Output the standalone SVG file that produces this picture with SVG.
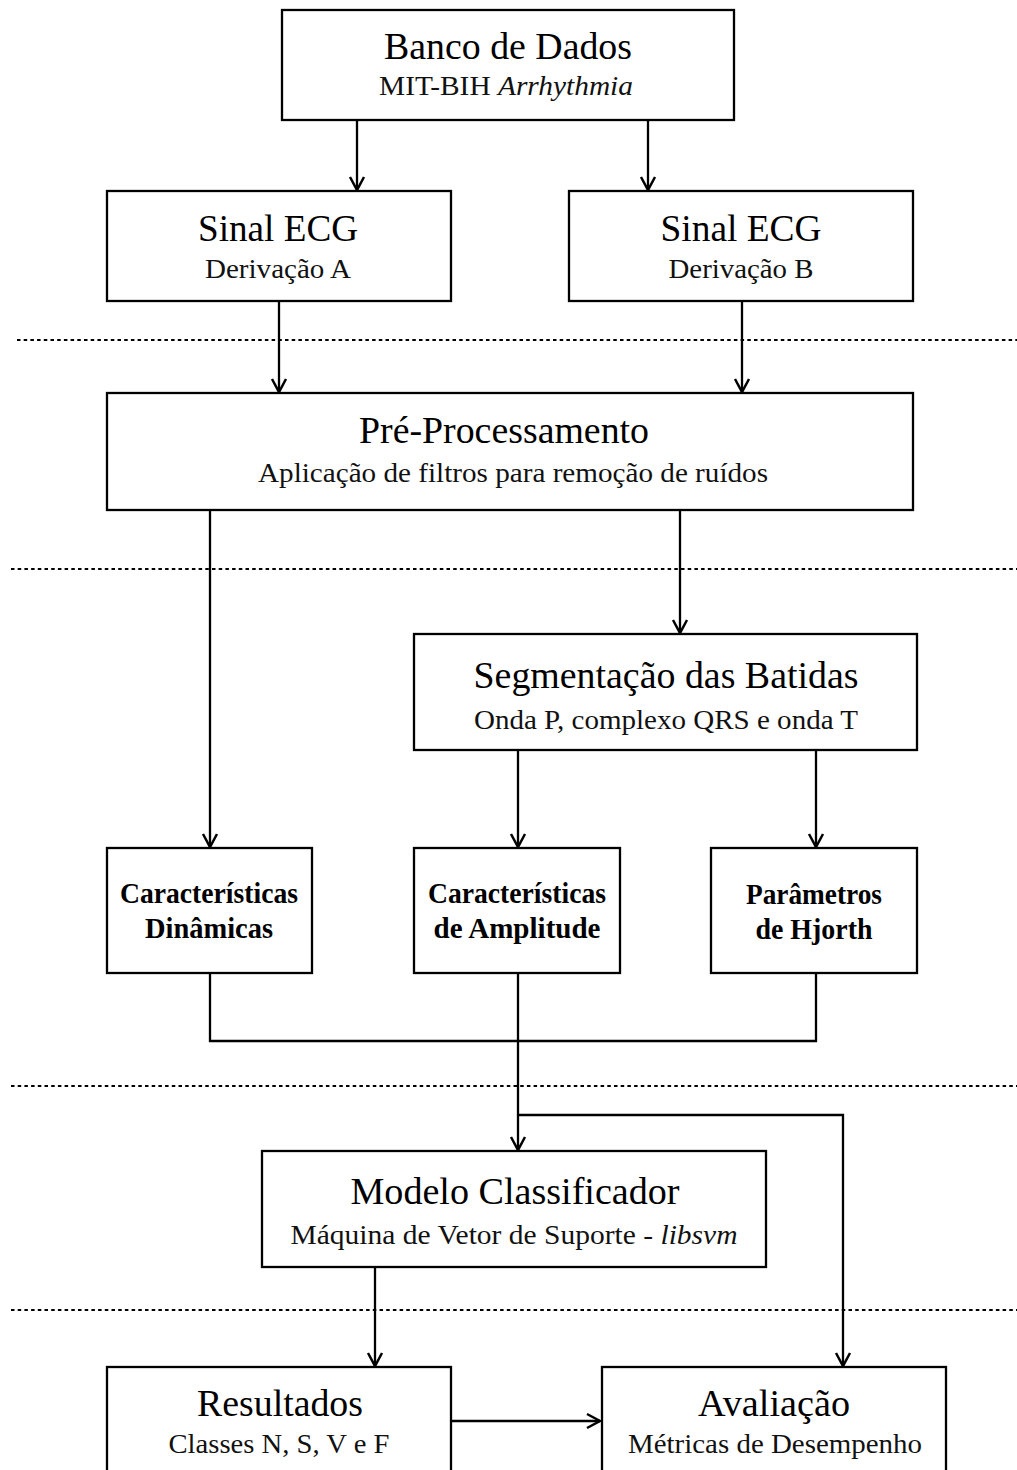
<svg xmlns="http://www.w3.org/2000/svg" width="1017" height="1470" viewBox="0 0 1017 1470">
  <style>
    .box { fill: #fff; stroke: #000; stroke-width: 2.3; }
    .wire { fill: none; stroke: #000; stroke-width: 2.3; }
    .sep { fill: none; stroke: #000; stroke-width: 2.2; stroke-dasharray: 3.5 3.2; }
    text { font-family: "Liberation Serif", "Times New Roman", serif; fill: #000; text-anchor: middle; }
    .t { font-size: 37px; }
    .s { font-size: 28px; fill: #111; }
    .b { font-size: 28.5px; font-weight: bold; }
  </style>
  <defs>
    <marker id="arrow" markerUnits="userSpaceOnUse" markerWidth="20" markerHeight="20" viewBox="-16 -10 20 20" refX="0" refY="0" orient="auto">
      <path d="M-13,-7 L0,0 L-13,7" fill="none" stroke="#000" stroke-width="2.5"/>
    </marker>
  </defs>

  <!-- phase separators -->
  <g id="separators">
    <line class="sep" x1="17" y1="340" x2="1017" y2="340"/>
    <line class="sep" x1="11" y1="569" x2="1017" y2="569"/>
    <line class="sep" x1="11" y1="1086" x2="1017" y2="1086"/>
    <line class="sep" x1="11" y1="1310" x2="1017" y2="1310"/>
  </g>

  <!-- connectors -->
  <g id="connectors">
    <line class="wire" x1="357" y1="120" x2="357" y2="190" marker-end="url(#arrow)"/>
    <line class="wire" x1="648" y1="120" x2="648" y2="190" marker-end="url(#arrow)"/>
    <line class="wire" x1="279" y1="301" x2="279" y2="392" marker-end="url(#arrow)"/>
    <line class="wire" x1="742" y1="301" x2="742" y2="392" marker-end="url(#arrow)"/>
    <line class="wire" x1="210" y1="510" x2="210" y2="847" marker-end="url(#arrow)"/>
    <line class="wire" x1="680" y1="510" x2="680" y2="633" marker-end="url(#arrow)"/>
    <line class="wire" x1="518" y1="750" x2="518" y2="847" marker-end="url(#arrow)"/>
    <line class="wire" x1="816" y1="750" x2="816" y2="847" marker-end="url(#arrow)"/>
    <!-- feature merge -->
    <polyline class="wire" points="210,973 210,1041 816,1041 816,973"/>
    <line class="wire" x1="518" y1="973" x2="518" y2="1150" marker-end="url(#arrow)"/>
    <polyline class="wire" points="518,1115 843,1115 843,1366" marker-end="url(#arrow)"/>
    <line class="wire" x1="375" y1="1267" x2="375" y2="1366" marker-end="url(#arrow)"/>
    <line class="wire" x1="451" y1="1421" x2="600" y2="1421" marker-end="url(#arrow)"/>
  </g>

  <g id="banco-de-dados">
    <rect class="box" x="282" y="10" width="452" height="110"/>
    <text class="t" x="508" y="59" textLength="248" lengthAdjust="spacingAndGlyphs">Banco de Dados</text>
    <text class="s" x="506" y="95" textLength="254" lengthAdjust="spacingAndGlyphs">MIT-BIH <tspan font-style="italic">Arrhythmia</tspan></text>
  </g>

  <g id="sinal-a">
    <rect class="box" x="107" y="191" width="344" height="110"/>
    <text class="t" x="278" y="241" textLength="160" lengthAdjust="spacingAndGlyphs">Sinal ECG</text>
    <text class="s" x="278" y="278" textLength="146" lengthAdjust="spacingAndGlyphs">Derivação A</text>
  </g>

  <g id="sinal-b">
    <rect class="box" x="569" y="191" width="344" height="110"/>
    <text class="t" x="741" y="241" textLength="161" lengthAdjust="spacingAndGlyphs">Sinal ECG</text>
    <text class="s" x="741" y="278" textLength="145" lengthAdjust="spacingAndGlyphs">Derivação B</text>
  </g>

  <g id="pre-processamento">
    <rect class="box" x="107" y="393" width="806" height="117"/>
    <text class="t" x="504" y="443" textLength="290" lengthAdjust="spacingAndGlyphs">Pré-Processamento</text>
    <text class="s" x="513" y="482" textLength="510" lengthAdjust="spacingAndGlyphs">Aplicação de filtros para remoção de ruídos</text>
  </g>

  <g id="segmentacao">
    <rect class="box" x="414" y="634" width="503" height="116"/>
    <text class="t" x="666" y="688" textLength="385" lengthAdjust="spacingAndGlyphs">Segmentação das Batidas</text>
    <text class="s" x="666" y="729" textLength="384" lengthAdjust="spacingAndGlyphs">Onda P, complexo QRS e onda T</text>
  </g>

  <g id="caracteristicas-dinamicas">
    <rect class="box" x="107" y="848" width="205" height="125"/>
    <text class="b" x="209" y="903" textLength="178" lengthAdjust="spacingAndGlyphs">Características</text>
    <text class="b" x="209" y="938" textLength="128" lengthAdjust="spacingAndGlyphs">Dinâmicas</text>
  </g>

  <g id="caracteristicas-amplitude">
    <rect class="box" x="414" y="848" width="206" height="125"/>
    <text class="b" x="517" y="903" textLength="178" lengthAdjust="spacingAndGlyphs">Características</text>
    <text class="b" x="517" y="938" textLength="167" lengthAdjust="spacingAndGlyphs">de Amplitude</text>
  </g>

  <g id="parametros-hjorth">
    <rect class="box" x="711" y="848" width="206" height="125"/>
    <text class="b" x="814" y="904" textLength="136" lengthAdjust="spacingAndGlyphs">Parâmetros</text>
    <text class="b" x="814" y="939" textLength="117" lengthAdjust="spacingAndGlyphs">de Hjorth</text>
  </g>

  <g id="modelo-classificador">
    <rect class="box" x="262" y="1151" width="504" height="116"/>
    <text class="t" x="515" y="1204" textLength="329" lengthAdjust="spacingAndGlyphs">Modelo Classificador</text>
    <text class="s" x="514" y="1244" textLength="447" lengthAdjust="spacingAndGlyphs">Máquina de Vetor de Suporte - <tspan font-style="italic">libsvm</tspan></text>
  </g>

  <g id="resultados">
    <rect class="box" x="107" y="1367" width="344" height="120"/>
    <text class="t" x="280" y="1416" textLength="166" lengthAdjust="spacingAndGlyphs">Resultados</text>
    <text class="s" x="279" y="1453" textLength="221" lengthAdjust="spacingAndGlyphs">Classes N, S, V e F</text>
  </g>

  <g id="avaliacao">
    <rect class="box" x="602" y="1367" width="344" height="120"/>
    <text class="t" x="774" y="1416" textLength="152" lengthAdjust="spacingAndGlyphs">Avaliação</text>
    <text class="s" x="775" y="1453" textLength="294" lengthAdjust="spacingAndGlyphs">Métricas de Desempenho</text>
  </g>
</svg>
